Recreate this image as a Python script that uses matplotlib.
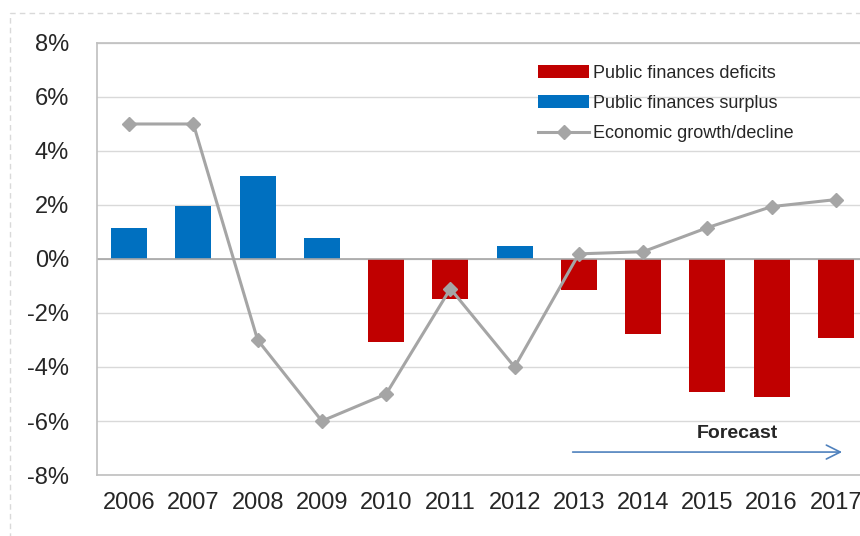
import matplotlib.pyplot as plt
import numpy as np
from matplotlib.patches import Rectangle

# podaci
godine = ["2006", "2007", "2008", "2009", "2010", "2011",
          "2012", "2013", "2014", "2015", "2016", "2017"]
saldo = [1.15, 1.96, 3.07, 0.78, -3.07, -1.5,
         0.47, -1.15, -2.79, -4.93, -5.1, -2.94]
rast = [5.0, 5.0, -3.0, -6.0, -5.0, -1.1,
        -4.0, 0.19, 0.27, 1.16, 1.94, 2.2]

plt.rcParams['font.family'] = ['Liberation Sans', 'DejaVu Sans']

fig = plt.figure(figsize=(8.6, 5.36), dpi=100)
ax = fig.add_axes([0.1128, 0.1138, 0.8965, 0.806])

x = np.arange(len(godine))
saldo = np.array(saldo)
deficit = np.where(saldo < 0, saldo, np.nan)
suficit = np.where(saldo >= 0, saldo, np.nan)

b1 = ax.bar(x, deficit, width=0.56, color="#C00000", label="Public finances deficits", zorder=2)
b2 = ax.bar(x, suficit, width=0.56, color="#0070C0", label="Public finances surplus", zorder=2)
l1, = ax.plot(x, rast, color="#A5A5A5", lw=2.2, marker="D", markersize=7,
              label="Economic growth/decline", zorder=3)

# osi i mreza
ax.set_xlim(-0.5, len(godine) - 0.5)
ax.set_ylim(-8, 8)
ax.set_yticks(np.arange(-8, 9, 2))
ax.set_yticklabels([f"{v}%" for v in range(-8, 9, 2)])
ax.set_xticks(x)
ax.set_xticklabels(godine)
ax.tick_params(length=0, labelsize=17, colors="#262626")
ax.tick_params(axis="y", pad=20)
ax.tick_params(axis="x", pad=12)
ax.grid(axis="y", color="#D9D9D9", lw=1, zorder=0)
ax.axhline(0, color="#A6A6A6", lw=1.2, zorder=2.5)
for s in ["top", "left", "bottom"]:
    ax.spines[s].set_color("#BFBFBF")
    ax.spines[s].set_linewidth(1.2)
ax.spines["right"].set_visible(False)

leg = ax.legend(handles=[b1, b2, l1], loc="upper left",
                bbox_to_anchor=(0.563, 0.966), frameon=False,
                fontsize=13, handlelength=2.8, handletextpad=0.25,
                labelspacing=0.72, borderaxespad=0)
for t in leg.get_texts():
    t.set_color("#262626")

# strelica za prognozu
ax.annotate("", xy=(11.14, -7.15), xytext=(6.86, -7.15),
            arrowprops=dict(arrowstyle="->", color="#4F81BD", lw=1.2,
                            mutation_scale=25))
ax.text(9.47, -6.45, "Forecast", ha="center", va="center",
        fontsize=14, fontweight="bold", color="#262626")

# isprekidani okvir oko slike
fig.patches.append(Rectangle((10 / 860, -0.1), 1.2, (536 - 13) / 536 + 0.1,
                             transform=fig.transFigure, fill=False,
                             edgecolor="#D9D9D9", lw=1, ls=(0, (4, 3))))

fig.savefig("out.png", dpi=100)
